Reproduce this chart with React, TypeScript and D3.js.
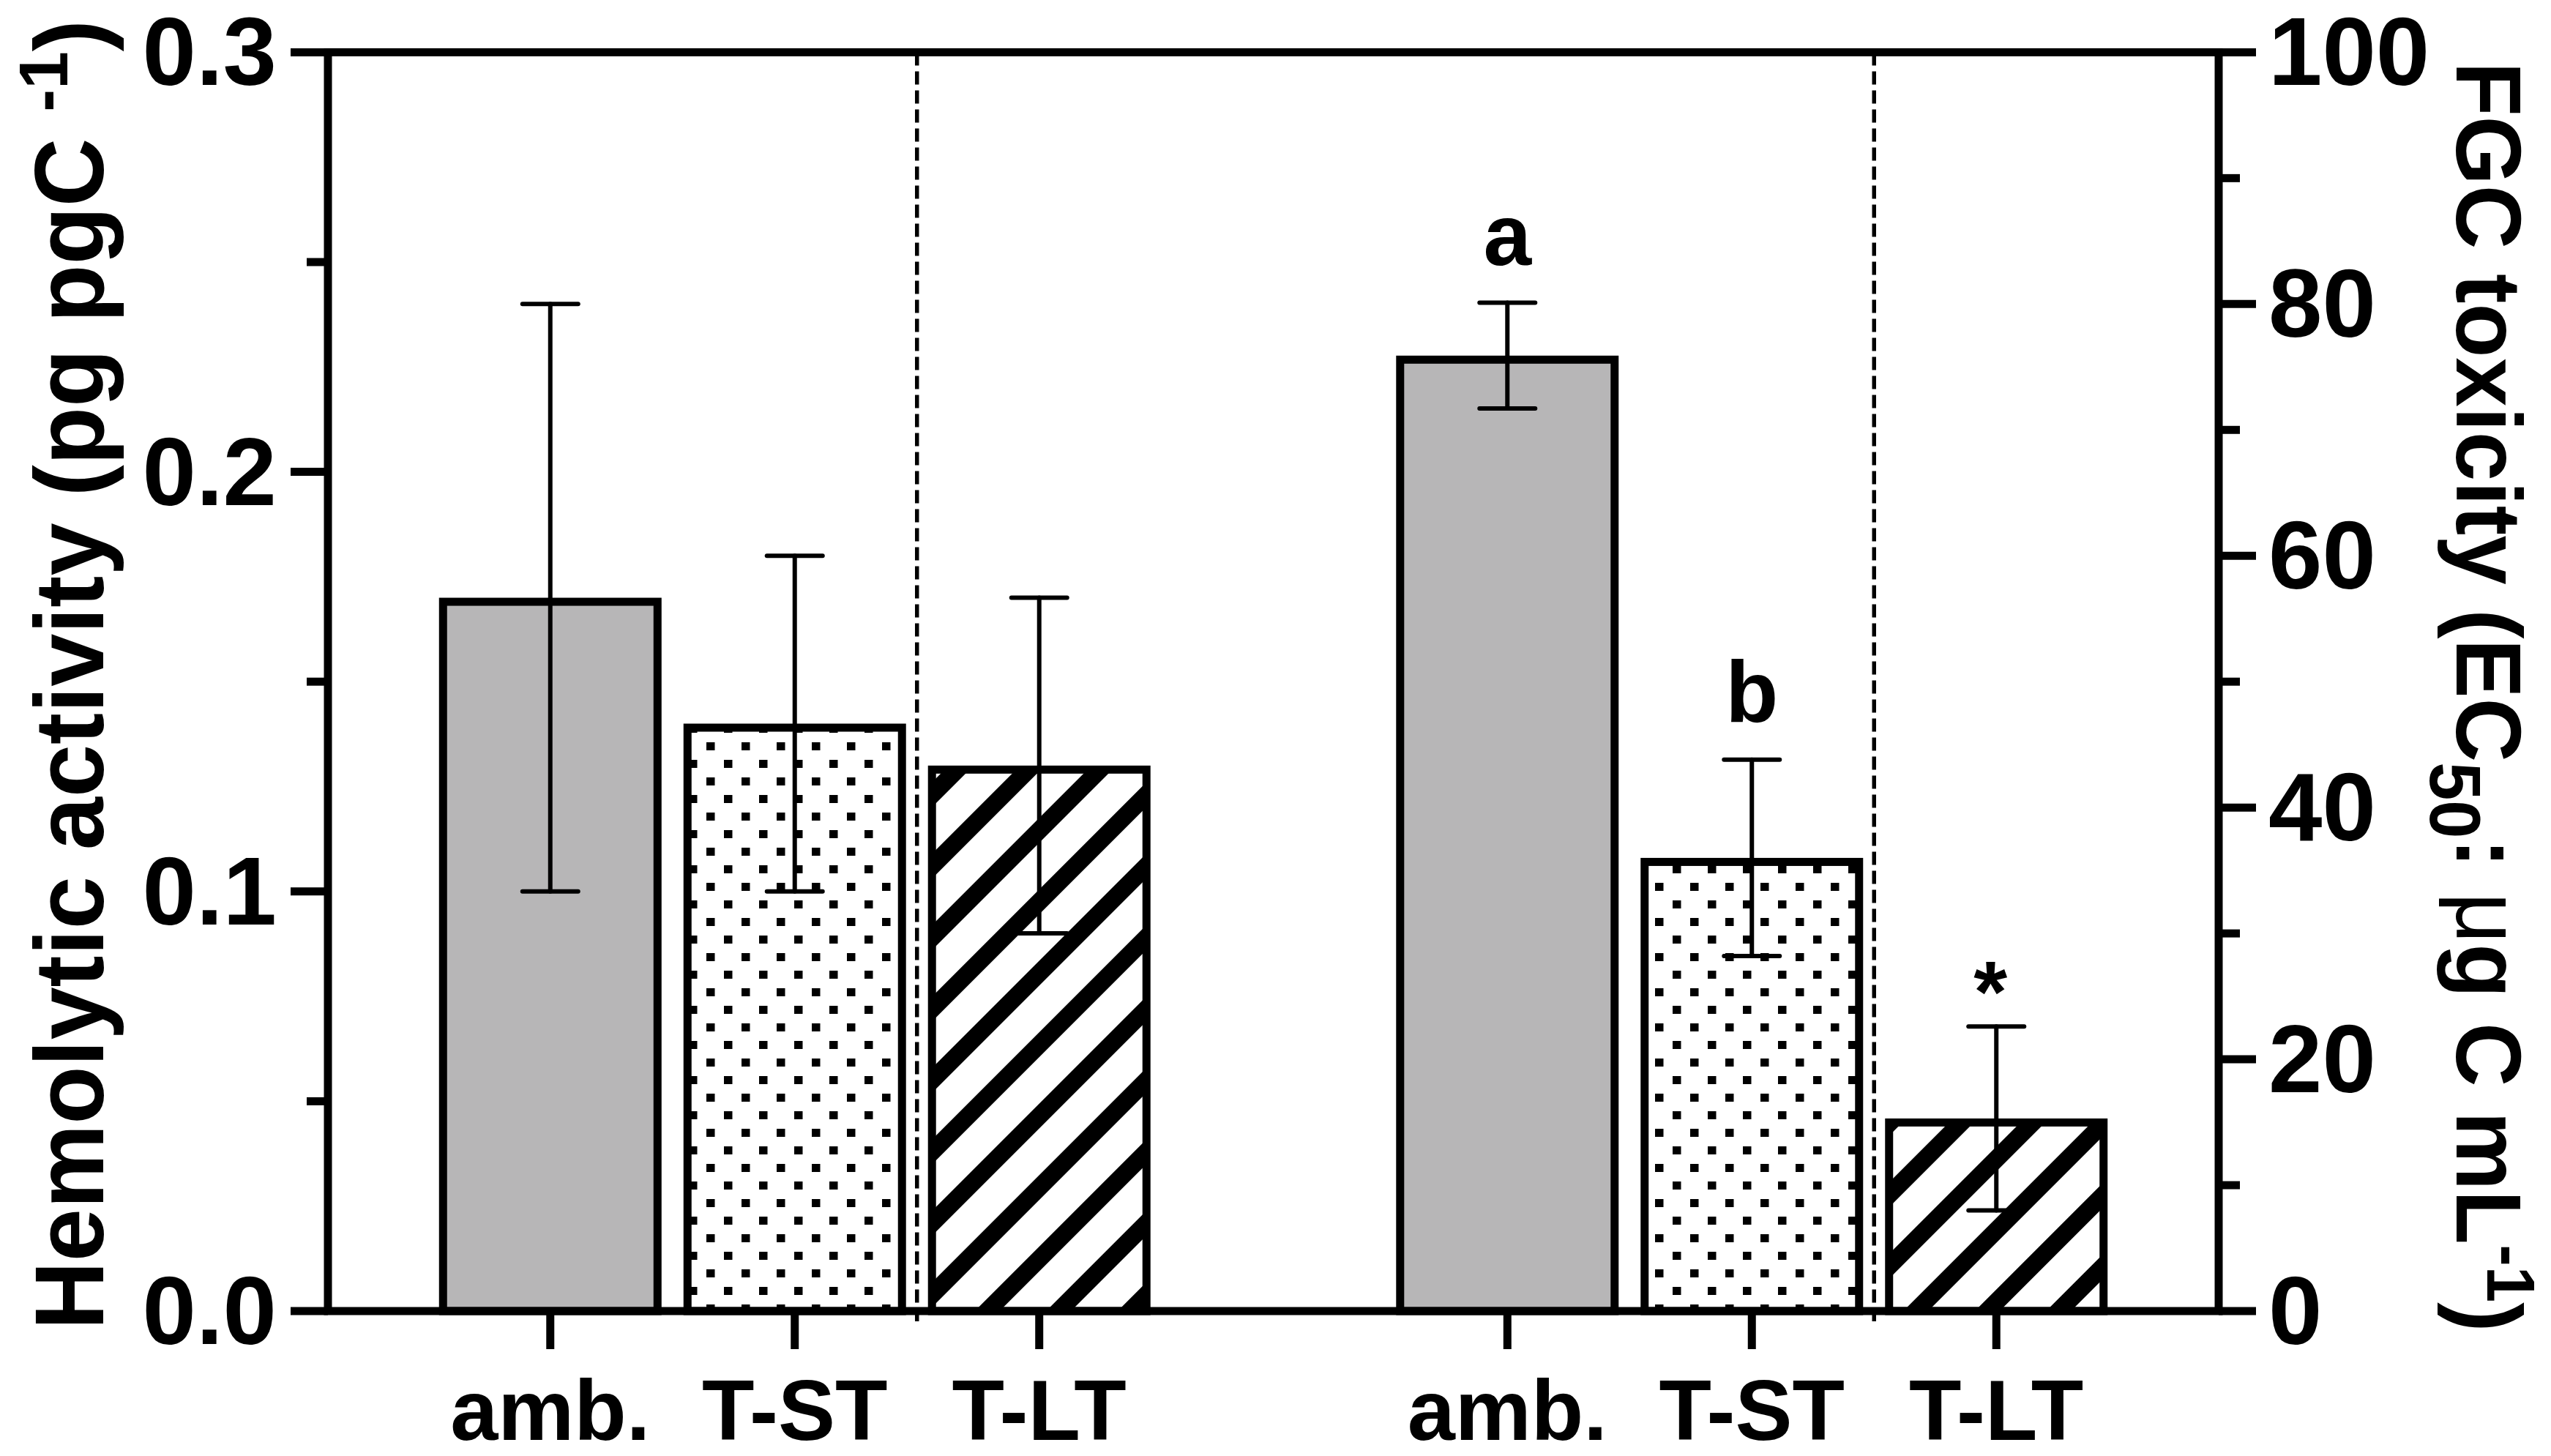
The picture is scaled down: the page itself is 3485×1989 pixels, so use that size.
import React from "react";
import * as d3 from "d3";

const groups = ["Hemolytic", "FGC"];
const treatments = ["amb.", "T-ST", "T-LT"];
const hemoMean = [0.17, 0.14, 0.13];
const hemoErr = [0.07, 0.04, 0.04];
const fgcMean = [75.9, 36.0, 15.3];
const fgcErr = [4.2, 7.8, 7.3];
const fgcLetters = ["a", "b", "*"];
const leftMajor = [0, 0.1, 0.2, 0.3];
const leftMinor = [0.05, 0.15, 0.25];
const rightMajor = [0, 20, 40, 60, 80, 100];
const rightMinor = [10, 30, 50, 70, 90];

const W = 3485;
const H = 1989;
const L = 448;
const R = 3031;
const T = 71.4;
const B = 1791;
const FONT = "'Liberation Sans', Arial, Helvetica, sans-serif";
const fills = ["#b7b6b7", "url(#dots)", "url(#hatch)"];

export default function App() {
  const x0 = d3.scaleBand().domain(groups).range([L, R]).paddingInner(0.2337).paddingOuter(0.1046);
  const x1 = d3
    .scaleBand()
    .domain(treatments)
    .range([0, x0.bandwidth()])
    .paddingInner(0.0898)
    .paddingOuter(0.0449);
  const yL = d3.scaleLinear().domain([0, 0.3]).range([B, T]);
  const yR = d3.scaleLinear().domain([0, 100]).range([B, T]);
  const bw = x1.bandwidth();
  const sw = 11;
  const fmt = d3.format(".1f");

  const series = [
    { g: groups[0], mean: hemoMean, err: hemoErr, y: yL, letters: ["", "", ""] },
    { g: groups[1], mean: fgcMean, err: fgcErr, y: yR, letters: fgcLetters },
  ];

  return (
    <svg
      width={W}
      height={H}
      style={{ position: "absolute", left: 0, top: 0, background: "#fff" }}
      fontFamily={FONT}
    >
      <defs>
        <pattern id="dots" patternUnits="userSpaceOnUse" width={48} height={48}>
          <rect width={48} height={48} fill="#fff" />
          <rect x={5} y={6} width={11.5} height={11} fill="#000" />
          <rect x={29} y={30} width={11.5} height={11} fill="#000" />
        </pattern>
        <pattern
          id="hatch"
          patternUnits="userSpaceOnUse"
          width={69}
          height={69}
          patternTransform="rotate(45)"
        >
          <rect width={69} height={69} fill="#fff" />
          <rect x={0} y={0} width={24} height={69} fill="#000" />
        </pattern>
      </defs>
      <rect width={W} height={H} fill="#fff" />

      {/* dashed separators */}
      {groups.map((g) => {
        const xd = (x0(g) as number) + (x1("T-LT") as number) - (x1.step() - bw) / 2;
        return (
          <line
            key={"d" + g}
            x1={xd}
            x2={xd}
            y1={T}
            y2={B + 14}
            stroke="#000"
            strokeWidth={5.5}
            strokeDasharray="18,8"
          />
        );
      })}

      {/* bars */}
      {series.map((s) =>
        treatments.map((t, i) => {
          const bx = (x0(s.g) as number) + (x1(t) as number);
          const yt = s.y(s.mean[i]);
          return (
            <rect
              key={s.g + t}
              x={bx + sw / 2}
              y={yt + sw / 2}
              width={bw - sw}
              height={B - yt - sw / 2}
              fill={fills[i]}
              stroke="#000"
              strokeWidth={sw}
            />
          );
        })
      )}

      {/* error bars */}
      {series.map((s) =>
        treatments.map((t, i) => {
          const cx = (x0(s.g) as number) + (x1(t) as number) + bw / 2;
          const yHi = s.y(s.mean[i] + s.err[i]);
          const yLo = s.y(s.mean[i] - s.err[i]);
          return (
            <g key={"e" + s.g + t} stroke="#000" strokeWidth={6} strokeLinecap="round">
              <line x1={cx} x2={cx} y1={yHi} y2={yLo} />
              <line x1={cx - 38} x2={cx + 38} y1={yHi} y2={yHi} />
              <line x1={cx - 38} x2={cx + 38} y1={yLo} y2={yLo} />
            </g>
          );
        })
      )}

      {/* significance letters */}
      {series.map((s) =>
        treatments.map((t, i) => {
          const lab = s.letters[i];
          if (!lab) return null;
          const cx = (x0(s.g) as number) + (x1(t) as number) + bw / 2;
          const yHi = s.y(s.mean[i] + s.err[i]);
          const off = lab === "*" ? 6 : 52;
          return (
            <text
              key={"l" + s.g + t}
              x={lab === "*" ? cx - 8 : cx}
              y={yHi - off}
              textAnchor="middle"
              fontSize={118}
              fontWeight="bold"
            >
              {lab}
            </text>
          );
        })
      )}

      {/* frame */}
      <rect x={L} y={T} width={R - L} height={B - T} fill="none" stroke="#000" strokeWidth={sw} />

      {/* left y ticks */}
      {leftMajor.map((v) => (
        <g key={"lm" + v}>
          <line x1={L - 51} x2={L} y1={yL(v)} y2={yL(v)} stroke="#000" strokeWidth={sw} />
          <text x={378} y={yL(v) + 45} textAnchor="end" fontSize={132} fontWeight="bold">
            {fmt(v)}
          </text>
        </g>
      ))}
      {leftMinor.map((v) => (
        <line key={"ln" + v} x1={L - 29} x2={L} y1={yL(v)} y2={yL(v)} stroke="#000" strokeWidth={sw} />
      ))}

      {/* right y ticks */}
      {rightMajor.map((v) => (
        <g key={"rm" + v}>
          <line x1={R} x2={R + 51} y1={yR(v)} y2={yR(v)} stroke="#000" strokeWidth={sw} />
          <text x={3099} y={yR(v) + 45} textAnchor="start" fontSize={132} fontWeight="bold">
            {v}
          </text>
        </g>
      ))}
      {rightMinor.map((v) => (
        <line key={"rn" + v} x1={R} x2={R + 29} y1={yR(v)} y2={yR(v)} stroke="#000" strokeWidth={sw} />
      ))}

      {/* x ticks and labels */}
      {groups.map((g) =>
        treatments.map((t) => {
          const cx = (x0(g) as number) + (x1(t) as number) + bw / 2;
          return (
            <g key={"x" + g + t}>
              <line x1={cx} x2={cx} y1={B} y2={B + 52} stroke="#000" strokeWidth={sw} />
              <text x={cx} y={1967} textAnchor="middle" fontSize={117} fontWeight="bold">
                {t}
              </text>
            </g>
          );
        })
      )}

      {/* axis titles */}
      <text
        transform="translate(141, 922) rotate(-90) scale(0.975, 1)"
        textAnchor="middle"
        fontSize={133}
        fontWeight="bold"
      >
        Hemolytic activity (pg pgC{" "}
        <tspan fontSize={95} dy={-49}>
          -1
        </tspan>
        <tspan dy={49}>)</tspan>
      </text>
      <text
        transform="translate(3356, 952) rotate(90) scale(0.955, 1)"
        textAnchor="middle"
        fontSize={127}
        fontWeight="bold"
      >
        FGC toxicity (EC
        <tspan fontSize={98} dy={36}>
          50
        </tspan>
        <tspan dy={-36}>: </tspan>
        <tspan fontWeight="normal">μ</tspan>g C mL
        <tspan fontSize={93} dy={-42}>
          -1
        </tspan>
        <tspan dy={42}>)</tspan>
      </text>
    </svg>
  );
}
